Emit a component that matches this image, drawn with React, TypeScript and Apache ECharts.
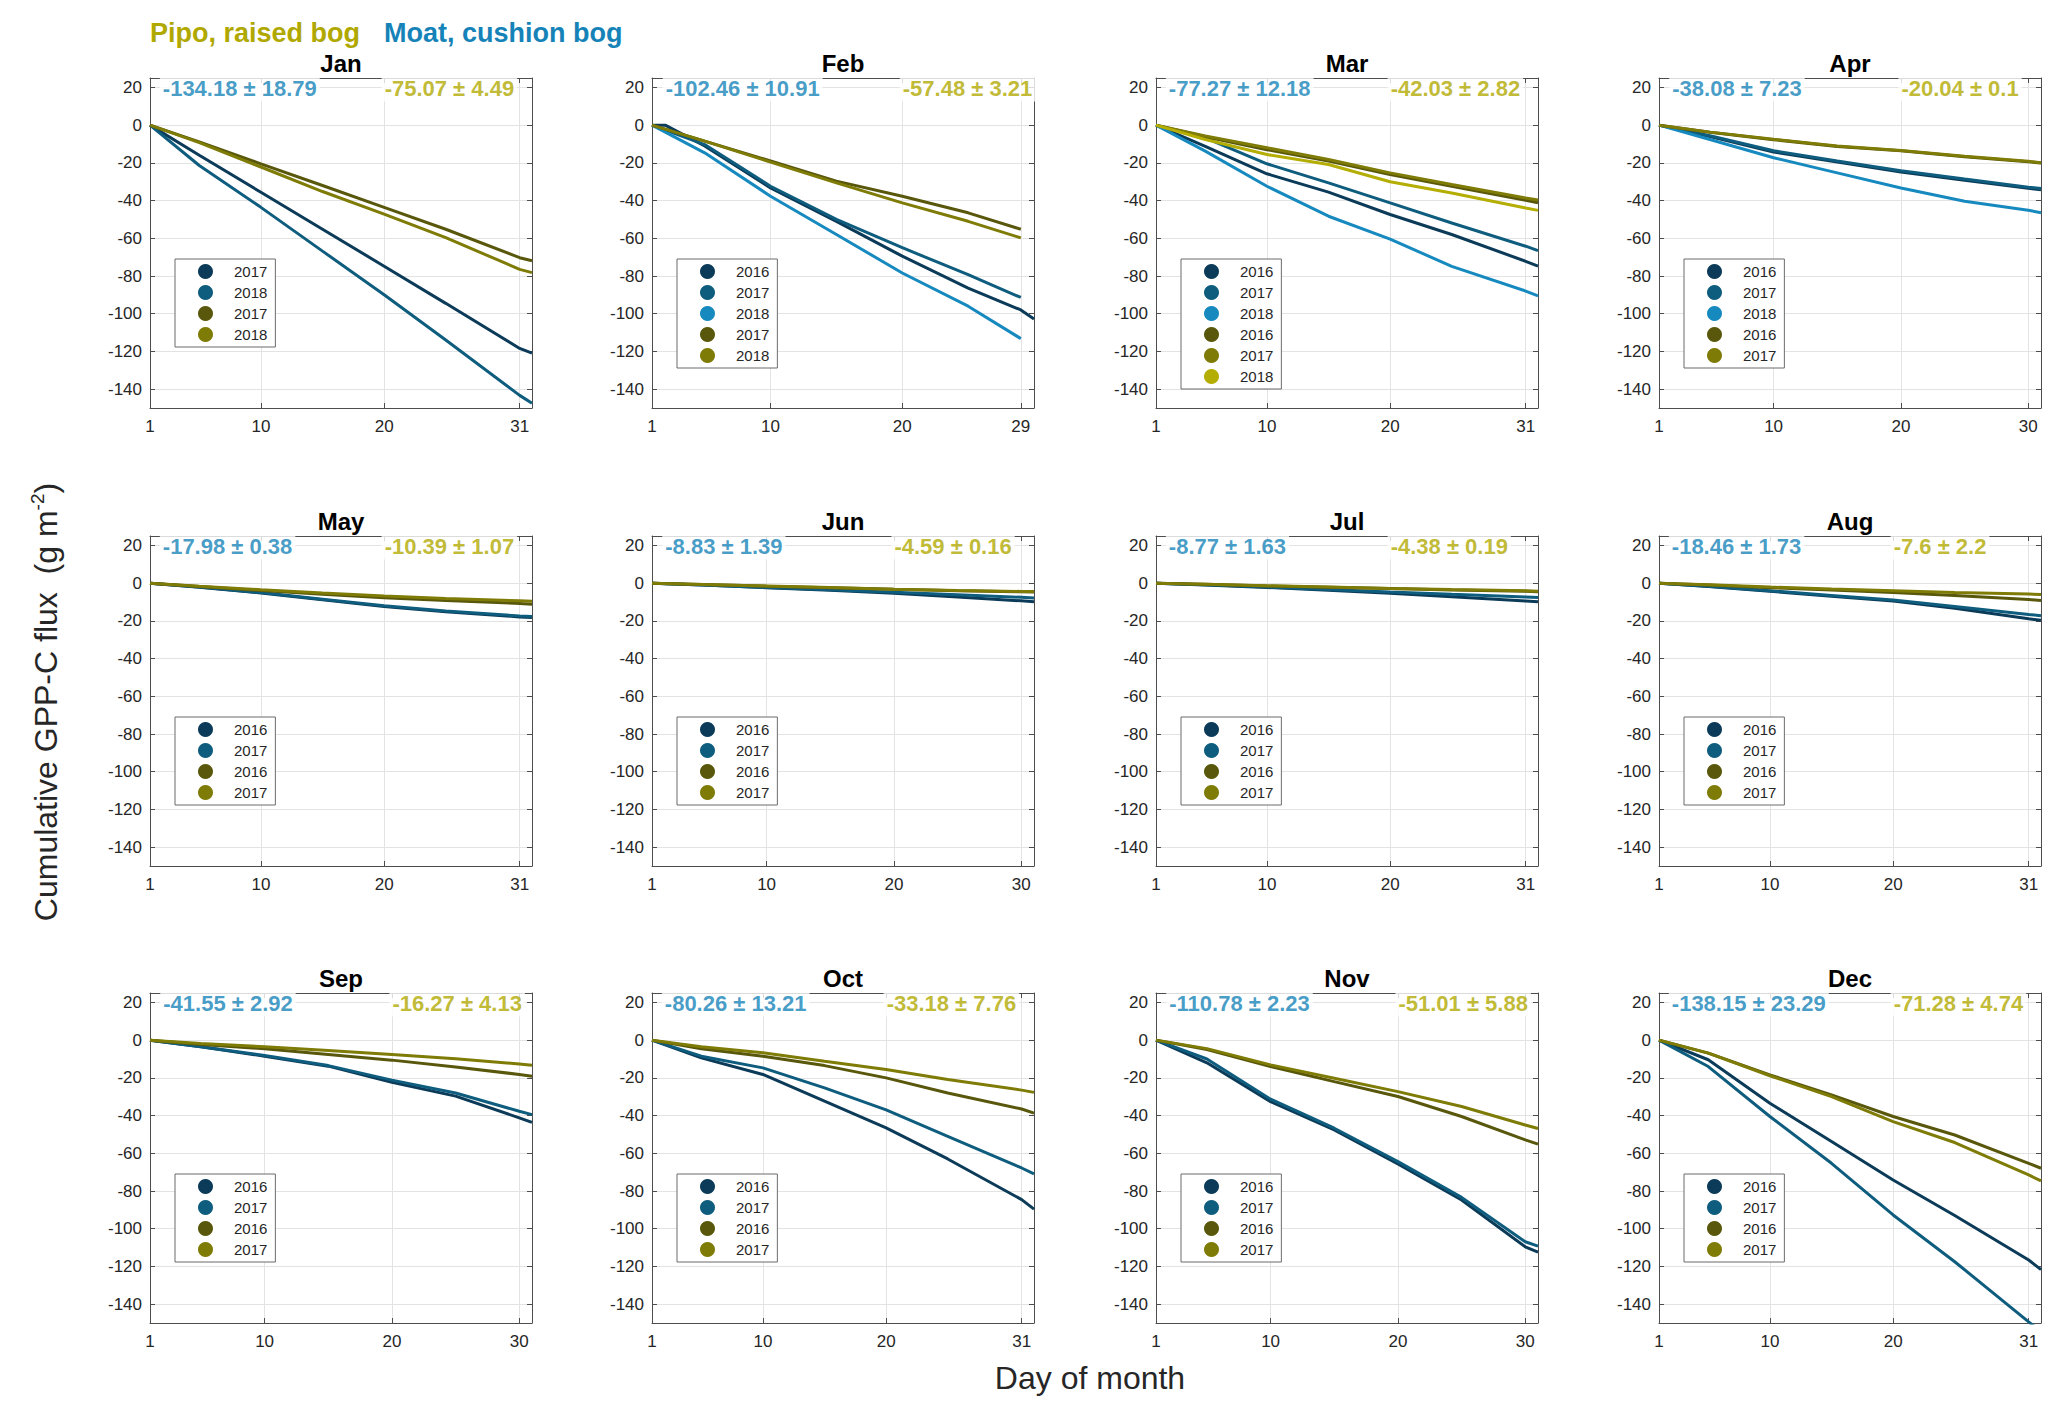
import React, { useEffect, useRef } from 'react';
import * as echarts from 'echarts';

const FONT = 'Liberation Sans';
const MONTHS = ['Jan', 'Feb', 'Mar', 'Apr', 'May', 'Jun', 'Jul', 'Aug', 'Sep', 'Oct', 'Nov', 'Dec'];
const X_MAX = [32, 30, 32, 31, 32, 31, 32, 32, 31, 32, 31, 32];
const X_LAST_TICK = [31, 29, 31, 30, 31, 30, 31, 31, 30, 31, 30, 31];
const Y_TICKS = [-140, -120, -100, -80, -60, -40, -20, 0, 20];

// day-of-month positions of the read values
const DAYS_31 = [1, 5, 10, 15, 20, 25, 31, 32];
const DAYS_30 = [1, 5, 10, 15, 20, 25, 30, 31];
const DAYS_FEB_LEAP = [1, 2, 5, 10, 15, 20, 25, 29, 30];
const DAYS_FEB = [1, 5, 10, 15, 20, 25, 29];

const JAN_MOAT_2017 = [0, -16.0, -35.6, -55.2, -74.8, -94.5, -118.4, -120.9];
const JAN_MOAT_2018 = [0, -21.4, -43.6, -66.8, -89.9, -113.9, -143.3, -147.5];
const JAN_PIPO_2017 = [0, -8.9, -20.5, -32.0, -43.6, -55.2, -70.3, -71.9];
const JAN_PIPO_2018 = [0, -9.3, -22.2, -35.2, -47.2, -59.6, -76.5, -78.2];

const FEB_MOAT_2016 = [0, 0, -11.0, -33.3, -51.0, -69.5, -86.4, -98.0, -102.8];
const FEB_MOAT_2017 = [0, -10.3, -32.4, -50.0, -65.0, -79.3, -91.4];
const FEB_MOAT_2018 = [0, -14.7, -37.7, -58.0, -78.4, -96.0, -113.2];
const FEB_PIPO_2017 = [0, -8.5, -19.0, -29.7, -37.7, -46.5, -55.2];
const FEB_PIPO_2018 = [0, -8.5, -19.6, -30.6, -41.2, -51.0, -59.8];

const MAR_MOAT_2016 = [0, -11.2, -25.8, -35.5, -47.4, -58.0, -72.2, -74.8];
const MAR_MOAT_2017 = [0, -6.7, -20.5, -30.6, -41.2, -51.9, -64.2, -66.5];
const MAR_MOAT_2018 = [0, -13.8, -32.4, -48.3, -60.4, -74.9, -88.0, -90.5];
const MAR_PIPO_2016 = [0, -6.2, -13.0, -19.0, -26.2, -32.4, -39.8, -41.2];
const MAR_PIPO_2017 = [0, -5.8, -12.0, -18.2, -25.3, -31.5, -38.6, -39.7];
const MAR_PIPO_2018 = [0, -7.6, -15.6, -20.9, -30.0, -36.0, -43.9, -45.2];

const APR_MOAT_2016 = [0, -6.0, -14.2, -19.5, -24.8, -29.2, -33.5, -34.2];
const APR_MOAT_2017 = [0, -5.6, -13.6, -19.0, -24.2, -28.6, -32.9, -33.6];
const APR_MOAT_2018 = [0, -7.6, -17.3, -25.3, -33.3, -40.4, -45.1, -46.45];
const APR_PIPO_2016 = [0, -3.8, -7.7, -11.3, -13.6, -16.7, -19.4, -20.11];
const APR_PIPO_2017 = [0, -3.7, -7.5, -11.1, -13.4, -16.5, -19.2, -19.97];

const MAY_MOAT_2016 = [0, -2.2, -5.2, -8.8, -12.4, -15.2, -17.9, -18.25];
const MAY_MOAT_2017 = [0, -2.1, -5.0, -8.5, -12.0, -14.8, -17.4, -17.71];
const MAY_PIPO_2016 = [0, -1.8, -3.9, -5.9, -7.7, -9.2, -10.8, -11.15];
const MAY_PIPO_2017 = [0, -1.6, -3.5, -5.2, -6.8, -8.1, -9.4, -9.63];

const JUN_MOAT_2016 = [0, -1.0, -2.4, -3.8, -5.4, -7.3, -9.4, -9.82];
const JUN_MOAT_2017 = [0, -1.0, -2.3, -3.5, -4.8, -6.1, -7.5, -7.85];
const JUN_PIPO_2016 = [0, -0.7, -1.6, -2.4, -3.3, -4.0, -4.6, -4.7];
const JUN_PIPO_2017 = [0, -0.7, -1.5, -2.3, -3.2, -3.9, -4.4, -4.48];

const JUL_MOAT_2016 = [0, -1.0, -2.3, -3.8, -5.4, -7.2, -9.5, -9.93];
const JUL_MOAT_2017 = [0, -0.9, -2.1, -3.4, -4.7, -5.9, -7.3, -7.62];
const JUL_PIPO_2016 = [0, -0.6, -1.5, -2.2, -2.9, -3.6, -4.3, -4.51];
const JUL_PIPO_2017 = [0, -0.6, -1.4, -2.1, -2.8, -3.4, -4.1, -4.25];

const AUG_MOAT_2016 = [0, -1.8, -4.3, -6.9, -9.5, -13.3, -18.9, -19.68];
const AUG_MOAT_2017 = [0, -1.7, -4.0, -6.5, -9.0, -12.4, -16.6, -17.24];
const AUG_PIPO_2016 = [0, -1.0, -2.4, -3.7, -4.9, -6.5, -8.7, -9.16];
const AUG_PIPO_2017 = [0, -0.9, -2.1, -3.1, -4.0, -4.9, -5.8, -6.04];

const SEP_MOAT_2016 = [0, -3.5, -8.5, -13.8, -22.3, -29.7, -41.2, -43.61];
const SEP_MOAT_2017 = [0, -3.5, -8.1, -13.5, -21.2, -28.0, -37.7, -39.49];
const SEP_PIPO_2016 = [0, -2.3, -4.6, -7.6, -10.6, -14.2, -18.2, -19.19];
const SEP_PIPO_2017 = [0, -1.8, -3.5, -5.5, -7.6, -9.9, -12.6, -13.35];

const OCT_MOAT_2016 = [0, -9.4, -18.2, -32.4, -46.5, -63.0, -84.6, -89.6];
const OCT_MOAT_2017 = [0, -8.5, -14.7, -25.3, -37.0, -51.0, -67.8, -70.92];
const OCT_PIPO_2016 = [0, -4.6, -8.5, -13.5, -20.0, -28.0, -36.5, -38.67];
const OCT_PIPO_2017 = [0, -3.5, -6.7, -11.2, -15.6, -20.9, -26.5, -27.7];

const NOV_MOAT_2016 = [0, -12.0, -32.6, -47.6, -65.7, -84.8, -109.6, -112.36];
const NOV_MOAT_2017 = [0, -10.0, -31.3, -46.7, -64.4, -83.4, -106.9, -109.2];
const NOV_PIPO_2016 = [0, -5.0, -14.0, -22.0, -29.9, -40.5, -52.9, -55.17];
const NOV_PIPO_2017 = [0, -4.5, -13.1, -20.2, -27.3, -35.2, -45.0, -46.85];

const DEC_MOAT_2016 = [0, -10.4, -33.5, -53.8, -74.2, -93.0, -116.6, -121.68];
const DEC_MOAT_2017 = [0, -14.0, -40.5, -65.3, -92.7, -117.5, -149.4, -154.62];
const DEC_PIPO_2016 = [0, -6.9, -18.4, -29.0, -40.5, -50.3, -65.3, -67.93];
const DEC_PIPO_2017 = [0, -6.9, -18.9, -29.9, -43.2, -54.3, -71.5, -74.63];

const MOAT_STATS = ['-134.18 ± 18.79', '-102.46 ± 10.91', '-77.27 ± 12.18', '-38.08 ± 7.23', '-17.98 ± 0.38', '-8.83 ± 1.39', '-8.77 ± 1.63', '-18.46 ± 1.73', '-41.55 ± 2.92', '-80.26 ± 13.21', '-110.78 ± 2.23', '-138.15 ± 23.29'];
const PIPO_STATS = ['-75.07 ± 4.49', '-57.48 ± 3.21', '-42.03 ± 2.82', '-20.04 ± 0.1', '-10.39 ± 1.07', '-4.59 ± 0.16', '-4.38 ± 0.19', '-7.6 ± 2.2', '-16.27 ± 4.13', '-33.18 ± 7.76', '-51.01 ± 5.88', '-71.28 ± 4.74'];

type Site = 'Moat' | 'Pipo';
type Line = { site: Site; year: string; days: number[]; vals: number[] };
const L = (site: Site, year: string, days: number[], vals: number[]): Line => ({ site, year, days, vals });

const PANELS: Line[][] = [
  [L('Moat', '2017', DAYS_31, JAN_MOAT_2017), L('Moat', '2018', DAYS_31, JAN_MOAT_2018), L('Pipo', '2017', DAYS_31, JAN_PIPO_2017), L('Pipo', '2018', DAYS_31, JAN_PIPO_2018)],
  [L('Moat', '2016', DAYS_FEB_LEAP, FEB_MOAT_2016), L('Moat', '2017', DAYS_FEB, FEB_MOAT_2017), L('Moat', '2018', DAYS_FEB, FEB_MOAT_2018), L('Pipo', '2017', DAYS_FEB, FEB_PIPO_2017), L('Pipo', '2018', DAYS_FEB, FEB_PIPO_2018)],
  [L('Moat', '2016', DAYS_31, MAR_MOAT_2016), L('Moat', '2017', DAYS_31, MAR_MOAT_2017), L('Moat', '2018', DAYS_31, MAR_MOAT_2018), L('Pipo', '2016', DAYS_31, MAR_PIPO_2016), L('Pipo', '2017', DAYS_31, MAR_PIPO_2017), L('Pipo', '2018', DAYS_31, MAR_PIPO_2018)],
  [L('Moat', '2016', DAYS_30, APR_MOAT_2016), L('Moat', '2017', DAYS_30, APR_MOAT_2017), L('Moat', '2018', DAYS_30, APR_MOAT_2018), L('Pipo', '2016', DAYS_30, APR_PIPO_2016), L('Pipo', '2017', DAYS_30, APR_PIPO_2017)],
  [L('Moat', '2016', DAYS_31, MAY_MOAT_2016), L('Moat', '2017', DAYS_31, MAY_MOAT_2017), L('Pipo', '2016', DAYS_31, MAY_PIPO_2016), L('Pipo', '2017', DAYS_31, MAY_PIPO_2017)],
  [L('Moat', '2016', DAYS_30, JUN_MOAT_2016), L('Moat', '2017', DAYS_30, JUN_MOAT_2017), L('Pipo', '2016', DAYS_30, JUN_PIPO_2016), L('Pipo', '2017', DAYS_30, JUN_PIPO_2017)],
  [L('Moat', '2016', DAYS_31, JUL_MOAT_2016), L('Moat', '2017', DAYS_31, JUL_MOAT_2017), L('Pipo', '2016', DAYS_31, JUL_PIPO_2016), L('Pipo', '2017', DAYS_31, JUL_PIPO_2017)],
  [L('Moat', '2016', DAYS_31, AUG_MOAT_2016), L('Moat', '2017', DAYS_31, AUG_MOAT_2017), L('Pipo', '2016', DAYS_31, AUG_PIPO_2016), L('Pipo', '2017', DAYS_31, AUG_PIPO_2017)],
  [L('Moat', '2016', DAYS_30, SEP_MOAT_2016), L('Moat', '2017', DAYS_30, SEP_MOAT_2017), L('Pipo', '2016', DAYS_30, SEP_PIPO_2016), L('Pipo', '2017', DAYS_30, SEP_PIPO_2017)],
  [L('Moat', '2016', DAYS_31, OCT_MOAT_2016), L('Moat', '2017', DAYS_31, OCT_MOAT_2017), L('Pipo', '2016', DAYS_31, OCT_PIPO_2016), L('Pipo', '2017', DAYS_31, OCT_PIPO_2017)],
  [L('Moat', '2016', DAYS_30, NOV_MOAT_2016), L('Moat', '2017', DAYS_30, NOV_MOAT_2017), L('Pipo', '2016', DAYS_30, NOV_PIPO_2016), L('Pipo', '2017', DAYS_30, NOV_PIPO_2017)],
  [L('Moat', '2016', DAYS_31, DEC_MOAT_2016), L('Moat', '2017', DAYS_31, DEC_MOAT_2017), L('Pipo', '2016', DAYS_31, DEC_PIPO_2016), L('Pipo', '2017', DAYS_31, DEC_PIPO_2017)],
];

const COLORS: Record<Site, string[]> = {
  Moat: ['#0b3b58', '#0e5d7e', '#1689bf'],
  Pipo: ['#58570b', '#7e7b06', '#b4ad04'],
};
const MOAT_TXT = '#1583b8';
const PIPO_TXT = '#b0a800';
const AXIS_COLOR = '#4d4d4d';
const LABEL_COLOR = '#262626';
const GRID_COLOR = '#e3e3e3';

const COL_LEFT = [150, 652, 1156, 1659];
const ROW_TOP = [78, 536, 993];
const GRID_W = 382;
const GRID_H = 330;

function buildOption() {
  const grid: any[] = [];
  const xAxis: any[] = [];
  const yAxis: any[] = [];
  const series: any[] = [];
  const legend: any[] = [];
  const graphic: any[] = [];

  MONTHS.forEach((mon, m) => {
    const col = m % 4;
    const row = Math.floor(m / 4);
    const left = COL_LEFT[col];
    const top = ROW_TOP[row];
    grid.push({ left, top, width: GRID_W, height: GRID_H, containLabel: false, outerBoundsMode: 'none' });
    const xTicks = [1, 10, 20, X_LAST_TICK[m]];
    const lineStyle = { color: AXIS_COLOR, width: 1 };
    xAxis.push({
      type: 'value', gridIndex: m, min: 1, max: X_MAX[m], position: 'bottom',
      axisLine: { show: true, onZero: false, lineStyle },
      axisTick: { show: true, inside: true, length: 5, customValues: xTicks, lineStyle },
      axisLabel: { show: true, customValues: xTicks, fontSize: 17, color: LABEL_COLOR, fontFamily: FONT, margin: 10 },
      splitLine: { show: true, lineStyle: { color: GRID_COLOR, width: 1 } },
    });
    xAxis.push({
      type: 'value', gridIndex: m, min: 1, max: X_MAX[m], position: 'top',
      axisLine: { show: true, onZero: false, lineStyle },
      axisTick: { show: true, inside: true, length: 5, customValues: xTicks, lineStyle },
      axisLabel: { show: false },
      splitLine: { show: false },
    });
    yAxis.push({
      type: 'value', gridIndex: m, min: -150, max: 25, position: 'left',
      axisLine: { show: true, onZero: false, lineStyle },
      axisTick: { show: true, inside: true, length: 5, customValues: Y_TICKS, lineStyle },
      axisLabel: { show: true, customValues: Y_TICKS, fontSize: 17, color: LABEL_COLOR, fontFamily: FONT, margin: 8 },
      splitLine: { show: true, lineStyle: { color: GRID_COLOR, width: 1 } },
    });
    yAxis.push({
      type: 'value', gridIndex: m, min: -150, max: 25, position: 'right',
      axisLine: { show: true, onZero: false, lineStyle },
      axisTick: { show: true, inside: true, length: 5, customValues: Y_TICKS, lineStyle },
      axisLabel: { show: false },
      splitLine: { show: false },
    });

    const names: string[] = [];
    const counters: Record<Site, number> = { Moat: 0, Pipo: 0 };
    PANELS[m].forEach((ln) => {
      const color = COLORS[ln.site][counters[ln.site]++];
      const name = `${mon}|${ln.site}|${ln.year}`;
      names.push(name);
      series.push({
        type: 'line', name, xAxisIndex: 2 * m, yAxisIndex: 2 * m,
        data: ln.days.map((d, i) => [d, ln.vals[i]]),
        showSymbol: false, symbol: 'none', clip: true,
        lineStyle: { color, width: 3 }, itemStyle: { color },
        z: 3, silent: true,
      });
    });

    series.push({
      type: 'scatter', xAxisIndex: 2 * m, yAxisIndex: 2 * m, silent: true,
      symbolSize: 1, itemStyle: { color: 'rgba(0,0,0,0)' }, z: 6,
      label: {
        show: true, position: 'right', distance: 0, offset: [-3, 1],
        fontSize: 22, fontWeight: 'bold', fontFamily: FONT,
        backgroundColor: '#ffffff', padding: [2, 3, 2, 3],
      },
      data: [
        { value: [2, 20], label: { formatter: MOAT_STATS[m], color: MOAT_TXT } },
        { value: [20, 20], label: { formatter: PIPO_STATS[m], color: PIPO_TXT } },
      ],
    });

    legend.push({
      show: true, data: names, orient: 'vertical',
      left: left + 25, top: top + 181,
      itemWidth: 15, itemHeight: 15, itemGap: 6, icon: 'circle',
      padding: [5, 8, 5, 23], backgroundColor: '#ffffff',
      borderColor: '#6b6b6b', borderWidth: 1, borderRadius: 0,
      selectedMode: false,
      formatter: (n: string) => n.split('|')[2],
      textStyle: { fontSize: 15, color: LABEL_COLOR, fontFamily: FONT, padding: [0, 0, 0, 16] },
    });

    graphic.push({
      type: 'text', x: left + GRID_W / 2, y: top - 15, silent: true,
      style: { text: mon, font: `bold 24px "${FONT}"`, fill: '#000000', align: 'center', verticalAlign: 'middle' },
    });
  });

  graphic.push({
    type: 'text', x: 150, y: 33, silent: true,
    style: { text: 'Pipo, raised bog', font: `bold 27px "${FONT}"`, fill: PIPO_TXT, align: 'left', verticalAlign: 'middle' },
  });
  graphic.push({
    type: 'text', x: 384, y: 33, silent: true,
    style: { text: 'Moat, cushion bog', font: `bold 27px "${FONT}"`, fill: MOAT_TXT, align: 'left', verticalAlign: 'middle' },
  });
  graphic.push({
    type: 'text', x: 1090, y: 1378, silent: true,
    style: { text: 'Day of month', font: `32px "${FONT}"`, fill: LABEL_COLOR, align: 'center', verticalAlign: 'middle' },
  });
  graphic.push({
    type: 'text', x: 46, y: 702, rotation: Math.PI / 2, silent: true,
    style: {
      text: '{n|Cumulative GPP-C flux  (g m}{s|-2}{n|)}',
      align: 'center', verticalAlign: 'middle',
      rich: {
        n: { fontSize: 32, fontFamily: FONT, fill: LABEL_COLOR, lineHeight: 36 },
        s: { fontSize: 19, fontFamily: FONT, fill: LABEL_COLOR, verticalAlign: 'top', lineHeight: 36 },
      },
    },
  });

  return {
    animation: false,
    backgroundColor: '#ffffff',
    textStyle: { fontFamily: FONT },
    grid, xAxis, yAxis, series, legend, graphic,
  };
}

export default function App() {
  const ref = useRef<HTMLDivElement>(null);
  useEffect(() => {
    if (!ref.current) return;
    const chart = echarts.init(ref.current, null, { renderer: 'svg' });
    chart.setOption(buildOption() as any);
    return () => chart.dispose();
  }, []);
  return (
    <div
      ref={ref}
      style={{ position: 'fixed', left: 0, top: 0, width: 2067, height: 1418, background: '#ffffff' }}
    />
  );
}
